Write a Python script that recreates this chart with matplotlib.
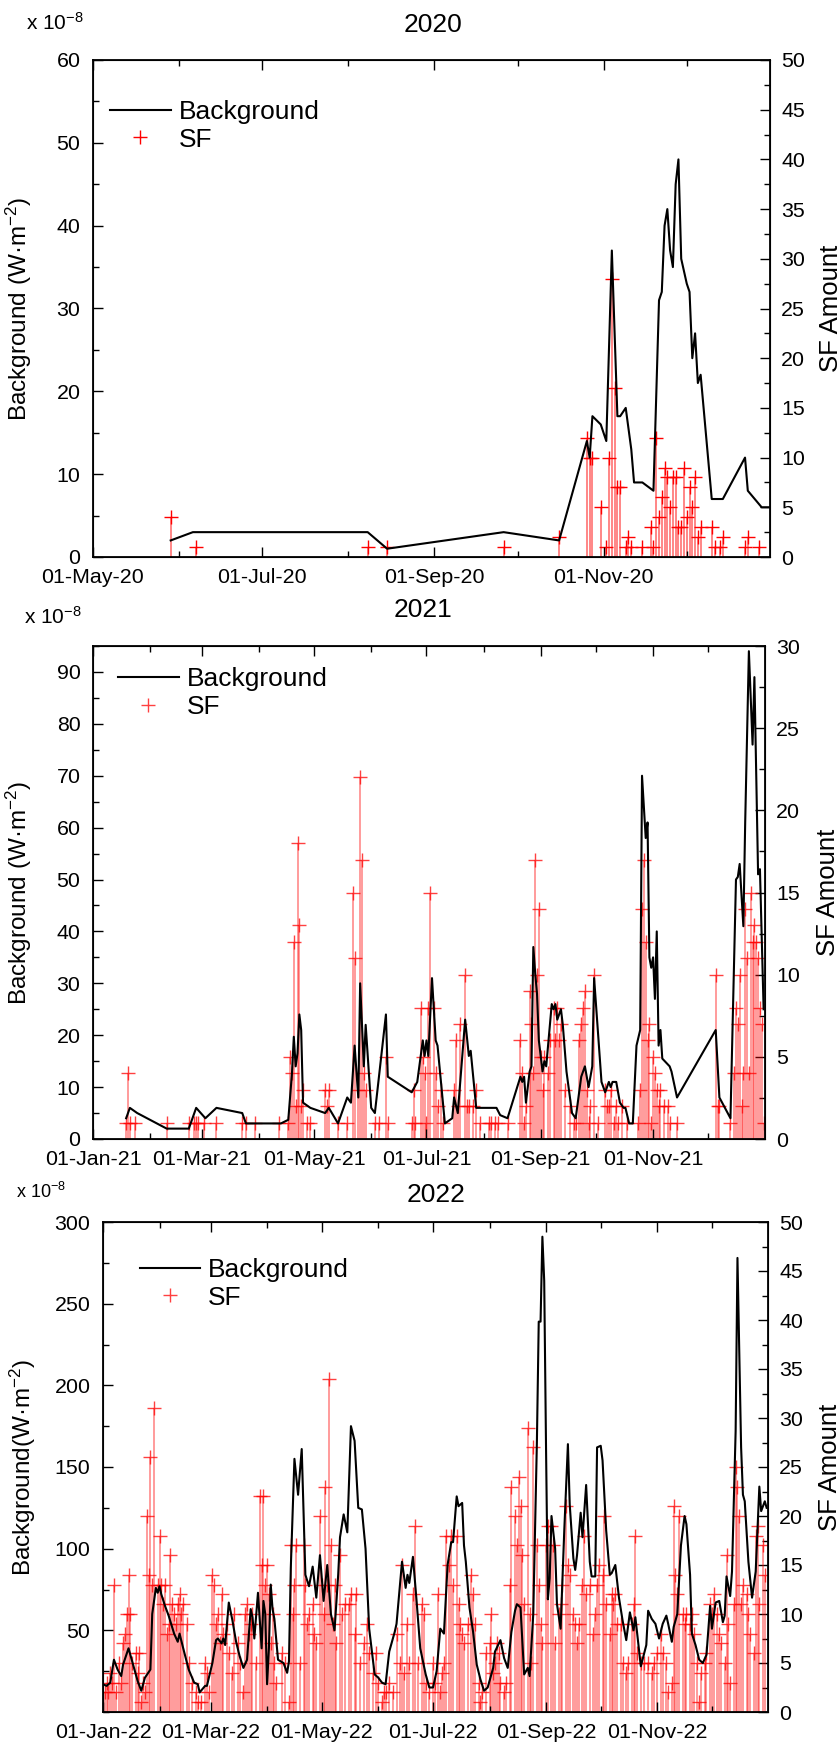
import pandas as pd
import matplotlib
matplotlib.use('Agg')
import matplotlib.pyplot as plt
import matplotlib.dates as mdates
from matplotlib.lines import Line2D
from matplotlib.ticker import MultipleLocator

plt.rcParams['font.family'] = ['Liberation Sans', 'DejaVu Sans']
plt.rcParams['mathtext.fontset'] = 'custom'
plt.rcParams['mathtext.rm'] = 'Liberation Sans'
plt.rcParams['mathtext.it'] = 'Liberation Sans:italic'
plt.rcParams['mathtext.default'] = 'regular'

# --- data: (day offset from panel start, value) ---
# 2020, offsets from 01-May-2020
bg_2020 = [(28, 2), (36, 3), (99, 3), (106, 1), (148, 3), (168, 2), (178, 14), (179, 12),
           (180, 17), (183, 16), (185, 14), (187, 37), (189, 17), (190, 17), (192, 18),
           (194, 13), (195, 9), (198, 9), (202, 8), (204, 31), (205, 32), (206, 40),
           (207, 42), (208, 37), (209, 35), (210, 45), (211, 48), (212, 36), (214, 33),
           (215, 32), (216, 24), (217, 27), (218, 21), (219, 22), (223, 7), (227, 7),
           (235, 12), (236, 8), (241, 6), (244, 6)]
sf_2020 = [(28, 4), (37, 1), (99, 1), (106, 1), (148, 1), (168, 2), (178, 12), (179, 10),
           (180, 10), (183, 5), (185, 1), (186, 10), (187, 28), (188, 17), (189, 7), (190, 7),
           (192, 1), (193, 2), (194, 1), (198, 1), (201, 3), (202, 1), (203, 12), (204, 4),
           (205, 6), (206, 9), (207, 8), (208, 5), (209, 8), (210, 8), (211, 3), (212, 3),
           (213, 9), (214, 4), (215, 7), (216, 5), (217, 8), (218, 2), (219, 3), (223, 3),
           (224, 1), (226, 1), (227, 2), (235, 1), (236, 2), (240, 1)]

# 2021, offsets from 01-Jan-2021
bg_2021 = [(18, 4), (20, 6), (24, 5), (40, 2), (52, 2), (56, 6), (61, 4), (67, 6), (81, 5),
           (83, 3), (102, 3), (106, 3.7), (108, 12.7), (109, 19.7), (110, 14), (111, 16.5),
           (112, 24), (113, 21), (114, 7), (118, 6), (126, 5), (128, 6), (133, 3), (138, 8),
           (140, 7), (142, 18), (144, 8), (145, 30), (147, 14), (148, 22), (151, 6), (153, 5),
           (159, 24), (160, 12), (173, 9), (176, 11), (179, 19), (180, 16), (181, 19),
           (182, 16), (184, 31), (186, 19), (187, 18), (191, 3), (195, 4), (196, 8), (198, 5),
           (202, 23), (204, 16), (205, 17), (208, 6), (219, 6), (221, 4.6), (225, 4), (232, 12),
           (233, 11), (234, 12), (235, 7), (237, 13), (238, 14), (239, 37), (240, 32),
           (241, 28), (242, 19), (244, 13), (245, 15), (246, 14), (249, 26), (250, 25),
           (251, 26), (252, 23), (254, 25), (255, 22), (257, 13), (260, 5), (262, 4), (265, 12),
           (266, 13), (267, 14), (269, 10), (271, 14), (272, 31), (274, 21), (276, 11), (278, 9),
           (280, 11), (281, 10), (282, 11), (284, 11), (286, 7), (288, 6), (289, 6), (291, 3),
           (293, 3), (295, 18), (297, 21), (298, 70), (300, 58), (301, 61), (302, 35), (303, 33),
           (304, 35), (305, 27), (306, 40), (307, 18), (308, 21), (309, 15.5), (313, 14),
           (314, 13), (317, 8), (338, 21), (340, 8), (346, 4), (349, 50), (350, 50.5), (351, 53),
           (353, 41), (354, 61), (356, 94), (358, 76), (359, 89), (361, 51), (362, 52), (364, 25)]
sf_2021 = [(18, 1), (19, 4), (20, 1), (23, 1), (40, 1), (52, 1), (55, 1), (56, 1), (57, 1),
           (60, 1), (67, 1), (81, 1), (83, 1), (88, 1), (101, 1), (106, 1), (107, 5), (108, 4),
           (109, 12), (110, 2), (111, 18), (112, 13), (113, 2), (114, 3), (116, 1), (118, 1),
           (126, 3), (127, 2), (128, 3), (133, 1), (138, 1), (141, 15), (142, 11), (144, 3),
           (145, 22), (146, 17), (147, 4), (148, 3), (153, 1), (155, 1), (159, 5), (160, 1),
           (173, 1), (174, 3), (175, 1), (178, 8), (179, 5), (180, 4), (181, 1), (182, 8),
           (183, 15), (185, 8), (186, 4), (187, 2), (189, 3), (190, 1), (196, 3), (197, 6),
           (198, 2), (199, 7), (202, 10), (203, 2), (204, 2), (206, 2), (208, 3), (210, 1),
           (215, 1), (216, 1), (218, 1), (220, 1), (225, 1), (232, 6), (233, 4), (234, 1),
           (235, 2), (237, 9), (238, 7), (239, 4), (240, 17), (241, 10), (242, 14), (243, 5),
           (244, 3), (245, 5), (247, 4), (248, 6), (250, 8), (251, 6), (252, 8), (253, 6),
           (254, 7), (256, 3), (259, 2), (261, 1), (262, 1), (264, 6), (265, 7), (266, 8),
           (267, 9), (268, 3), (269, 1), (270, 2), (272, 10), (274, 1), (278, 3), (279, 2),
           (280, 2), (281, 3), (283, 1), (284, 2), (285, 1), (287, 2), (290, 1), (296, 1),
           (297, 3), (298, 14), (299, 17), (300, 12), (301, 6), (302, 7), (303, 1), (304, 5),
           (305, 4), (306, 3), (307, 2), (308, 3), (310, 2), (312, 2), (313, 1), (317, 1),
           (338, 10), (339, 2), (340, 2), (346, 1), (348, 4), (349, 8), (350, 7), (351, 10),
           (352, 2), (353, 4), (354, 14), (355, 11), (356, 4), (357, 15), (358, 12), (359, 13),
           (360, 12), (361, 11), (362, 8), (363, 7), (364, 1)]

# 2022, offsets from 01-Jan-2022
bg_2022 = [(0, 17), (2, 16), (4, 18), (6, 32), (8, 26), (10, 22), (11, 29), (14, 39), (16, 31),
           (19, 19), (21, 13), (23, 21), (26, 26), (27, 60), (29, 76), (30, 73), (31, 77),
           (32, 72), (34, 65), (36, 59), (39, 48), (41, 43), (42, 48), (44, 39), (47, 26),
           (50, 18), (52, 17), (53, 12), (56, 16), (57, 16), (60, 30), (62, 44), (63, 45),
           (65, 42), (66, 45), (67, 41), (69, 67), (71, 56), (73, 43), (75, 34), (77, 27),
           (79, 32), (81, 63), (82, 58), (83, 45), (85, 73), (87, 39), (88, 68), (89, 60),
           (90, 17), (91, 39), (92, 78), (93, 63), (94, 57), (96, 32), (99, 30), (101, 24),
           (102, 31), (103, 88), (105, 155), (107, 133), (109, 161), (111, 84), (113, 77),
           (115, 89), (117, 70), (119, 96), (121, 68), (123, 90), (125, 60), (127, 50), (129, 84),
           (130, 107), (132, 121), (134, 110), (136, 175), (138, 166), (140, 125), (142, 124),
           (144, 100), (146, 51), (149, 23), (151, 21), (153, 18), (155, 17), (157, 37),
           (160, 49), (161, 54), (164, 92), (166, 76), (167, 84), (168, 79), (170, 95), (172, 68),
           (174, 39), (177, 23), (179, 15), (181, 15), (183, 25), (185, 51), (187, 48), (189, 90),
           (191, 104), (192, 104), (194, 132), (195, 126), (197, 128), (198, 102), (199, 92),
           (201, 64), (203, 49), (205, 29), (207, 20), (209, 13), (211, 15), (214, 27), (215, 37),
           (218, 44), (220, 33), (222, 27), (224, 49), (226, 62), (227, 66), (229, 64), (230, 43),
           (231, 23), (233, 27), (234, 22), (236, 60), (238, 166), (239, 239), (240, 239),
           (241, 291), (242, 264), (243, 162), (244, 69), (245, 82), (246, 120), (248, 100),
           (249, 66), (251, 51), (253, 111), (255, 164), (256, 127), (258, 94), (259, 87),
           (260, 96), (262, 122), (263, 107), (265, 139), (267, 92), (268, 83), (270, 83),
           (271, 162), (273, 163), (274, 154), (276, 111), (278, 84), (279, 85), (281, 90),
           (283, 70), (285, 56), (287, 44), (289, 61), (291, 50), (292, 58), (295, 28), (298, 41),
           (299, 62), (301, 57), (303, 54), (305, 45), (307, 54), (309, 59), (310, 54), (312, 43),
           (313, 52), (315, 60), (317, 102), (319, 120), (320, 115), (322, 84), (323, 48),
           (325, 41), (327, 32), (329, 30), (331, 35), (333, 65), (334, 51), (336, 67), (338, 68),
           (340, 55), (341, 59), (342, 83), (344, 71), (345, 86), (347, 172), (348, 278),
           (350, 162), (351, 133), (352, 129), (354, 92), (356, 70), (358, 86), (360, 138),
           (361, 123), (363, 129), (364, 125)]
sf_2022 = [(1, 2), (2, 3), (3, 2), (4, 4), (5, 3), (6, 13), (7, 2), (9, 5), (10, 3), (11, 7),
           (12, 8), (13, 10), (14, 14), (15, 10), (16, 5), (18, 6), (19, 4), (20, 6), (21, 1),
           (22, 3), (23, 2), (24, 20), (25, 14), (26, 26), (27, 13), (28, 31), (30, 13), (31, 18),
           (32, 13), (33, 11), (34, 13), (35, 8), (36, 9), (37, 16), (38, 11), (39, 10), (40, 9),
           (41, 11), (42, 12), (43, 10), (44, 11), (46, 9), (47, 5), (49, 3), (51, 2), (52, 1),
           (54, 1), (56, 5), (57, 4), (58, 2), (60, 14), (61, 13), (62, 9), (63, 10), (64, 7),
           (65, 12), (66, 8), (68, 9), (69, 6), (71, 4), (72, 10), (74, 7), (75, 5), (77, 2),
           (78, 10), (79, 11), (80, 8), (81, 9), (82, 10), (84, 5), (86, 22), (87, 15), (88, 22),
           (89, 13), (90, 15), (91, 12), (92, 7), (93, 10), (94, 5), (95, 3), (98, 6), (100, 5),
           (102, 1), (103, 17), (104, 10), (105, 13), (106, 17), (108, 5), (110, 17), (111, 13),
           (112, 9), (113, 10), (115, 11), (116, 8), (117, 7), (119, 20), (120, 13), (121, 10),
           (122, 23), (123, 13), (124, 34), (125, 17), (126, 9), (127, 13), (128, 7), (130, 16),
           (131, 10), (133, 11), (135, 11), (136, 12), (138, 8), (139, 12), (141, 5), (143, 7),
           (145, 9), (146, 6), (148, 4), (150, 6), (151, 3), (153, 1), (154, 2), (155, 2),
           (157, 3), (159, 2), (161, 8), (163, 5), (164, 15), (165, 4), (167, 9), (168, 5),
           (170, 12), (171, 19), (173, 5), (175, 11), (176, 10), (177, 3), (179, 2), (181, 5),
           (182, 3), (184, 12), (185, 2), (186, 4), (187, 5), (188, 18), (190, 15), (191, 18),
           (192, 13), (194, 18), (195, 11), (196, 9), (197, 8), (198, 7), (200, 9), (202, 14),
           (203, 12), (204, 9), (206, 3), (207, 1), (208, 2), (210, 6), (212, 7), (213, 10),
           (214, 4), (215, 5), (216, 7), (217, 6), (218, 3), (220, 2), (221, 3), (223, 13),
           (224, 23), (226, 20), (227, 17), (228, 24), (229, 21), (230, 16), (231, 11), (233, 29),
           (234, 10), (235, 5), (236, 27), (238, 17), (239, 13), (240, 9), (241, 7), (243, 17),
           (244, 19), (246, 19), (247, 17), (248, 7), (250, 10), (251, 11), (252, 13), (254, 21),
           (255, 15), (256, 14), (258, 10), (259, 9), (260, 7), (261, 9), (263, 13), (264, 18),
           (265, 12), (267, 13), (269, 8), (270, 10), (271, 13), (272, 15), (274, 14), (275, 20),
           (276, 11), (278, 8), (279, 12), (280, 11), (281, 12), (282, 9), (284, 9), (285, 5),
           (287, 4), (288, 5), (290, 9), (291, 11), (292, 18), (293, 6), (295, 5), (297, 5),
           (299, 5), (301, 4), (302, 5), (304, 6), (306, 8), (307, 6), (309, 5), (310, 2),
           (312, 3), (313, 21), (314, 14), (315, 12), (316, 20), (318, 10), (319, 9), (320, 10),
           (322, 9), (323, 10), (324, 8), (326, 5), (327, 1), (328, 4), (330, 5), (331, 6),
           (333, 11), (334, 10), (335, 12), (337, 10), (338, 8), (339, 7), (341, 5), (342, 16),
           (343, 9), (344, 3), (346, 11), (347, 25), (348, 23), (349, 20), (350, 11), (351, 13),
           (353, 12), (354, 10), (355, 8), (357, 6), (358, 18), (359, 19), (360, 11), (362, 17),
           (363, 14)]

W, H = 840, 1745
fig = plt.figure(figsize=(W / 100, H / 100), dpi=100)


def to_dates(start, pairs):
    t0 = pd.Timestamp(start)
    days = [t0 + pd.Timedelta(days=d) for d, v in pairs]
    vals = [v for d, v in pairs]
    return days, vals


def panel(box, start, end, bg, sf, ymax, yticks, yminor, rmax, ylabel,
          ylab_x, rlab_x, leg_xy, stem_alpha, mk_alpha):
    l, t, r, b = box
    ax = fig.add_axes([l / W, 1 - b / H, (r - l) / W, (b - t) / H])
    ax2 = ax.twinx()
    ax.set_zorder(ax2.get_zorder() + 1)
    ax.patch.set_visible(False)

    sd, sv = to_dates(start, sf)
    ax2.vlines(sd, 0, sv, colors='red', alpha=stem_alpha, lw=1.1)
    ax2.plot(sd, sv, '+', color='red', ms=10, mew=1.0, alpha=mk_alpha)
    bd, bv = to_dates(start, bg)
    ax.plot(bd, bv, color='black', lw=1.5)

    ax.set_xlim(pd.Timestamp(start), pd.Timestamp(end))
    ax.set_ylim(0, ymax)
    ax2.set_ylim(0, rmax)
    ax.set_yticks(yticks)
    ax.yaxis.set_minor_locator(MultipleLocator(yminor))
    ax2.yaxis.set_major_locator(MultipleLocator(5))
    ax2.yaxis.set_minor_locator(MultipleLocator(2.5))

    ax.xaxis.set_major_locator(mdates.MonthLocator(bymonth=[1, 3, 5, 7, 9, 11]))
    ax.xaxis.set_minor_locator(mdates.MonthLocator())
    ax.xaxis.set_major_formatter(mdates.DateFormatter('%d-%b-%y'))

    ax.tick_params(axis='x', which='both', direction='in', top=True, labelsize=15.4, pad=8)
    ax.tick_params(axis='y', which='both', direction='in', labelsize=15.4, pad=9)
    ax.tick_params(which='major', length=7, width=1.0)
    ax.tick_params(which='minor', length=4.5, width=1.0)
    ax2.tick_params(axis='y', which='both', direction='in', labelsize=15.4, pad=8)
    ax2.tick_params(which='major', length=7, width=1.0)
    ax2.tick_params(which='minor', length=4.5, width=1.0)
    for s in ax.spines.values():
        s.set_linewidth(1.3)

    ax.set_ylabel(ylabel, fontsize=17.5)
    ax.yaxis.set_label_coords(ylab_x, 0.5)
    ax2.set_ylabel('SF Amount', fontsize=18.5)
    ax2.yaxis.set_label_coords(rlab_x, 0.5)

    handles = [Line2D([], [], color='black', lw=1.5),
               Line2D([], [], color='red', marker='+', ls='none', ms=10, mew=1.0, alpha=mk_alpha)]
    ax.legend(handles, ['Background', 'SF'], loc='upper left', bbox_to_anchor=leg_xy,
              frameon=False, fontsize=19, handlelength=2.3, handletextpad=0.3,
              labelspacing=0.15, borderaxespad=0, borderpad=0)
    return ax, ax2


panel((93, 60, 770, 557), '2020-05-01', '2020-12-31', bg_2020, sf_2020,
      60, list(range(0, 61, 10)), 5, 50, r'Background (W·m$^{-2}$)',
      -0.087, 1.072, (0.025, 0.92), 0.6, 1.0)
fig.text(433 / W, 1 - 25 / H, '2020', ha='center', va='center', fontsize=19)
fig.text(26 / W, 1 - 23 / H, r'x 10$^{-8}$', ha='left', va='center', fontsize=15)

panel((93, 646, 765, 1139), '2021-01-01', '2021-12-31 18:00', bg_2021, sf_2021,
      95, list(range(0, 91, 10)), 5, 30, r'Background (W·m$^{-2}$)',
      -0.088, 1.076, (0.037, 0.957), 0.5, 0.75)
fig.text(423 / W, 1 - 610 / H, '2021', ha='center', va='center', fontsize=19)
fig.text(24 / W, 1 - 617 / H, r'x 10$^{-8}$', ha='left', va='center', fontsize=15)

panel((103, 1222, 768, 1712), '2022-01-01', '2022-12-31 18:00', bg_2022, sf_2022,
      300, list(range(50, 301, 50)), 25, 50, r'Background(W·m$^{-2}$)',
      -0.097, 1.075, (0.055, 0.927), 0.5, 0.75)
fig.text(436 / W, 1 - 1195 / H, '2022', ha='center', va='center', fontsize=19)
fig.text(16 / W, 1 - 1192 / H, r'x 10$^{-8}$', ha='left', va='center', fontsize=13)

fig.savefig('out.png', dpi=100)
